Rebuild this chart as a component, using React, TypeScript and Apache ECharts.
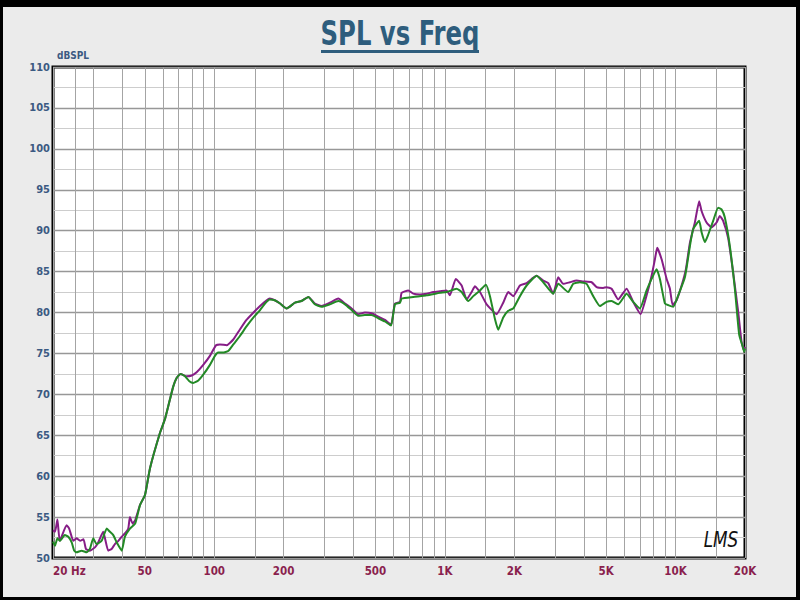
import React, { useEffect, useRef } from "react";
import * as echarts from "echarts";

// Grid line frequencies (Hz) and labelled frequencies
const gridFreqs = [20, 25, 30, 40, 50, 60, 70, 80, 90, 100, 150, 200, 300, 400, 500, 600, 700, 800, 900, 1000, 1500, 2000, 3000, 4000, 5000, 6000, 7000, 8000, 9000, 10000, 15000, 20000];
const labelFreqs = [20, 50, 100, 200, 500, 1000, 2000, 5000, 10000, 20000];

// Purple trace
const purpleFreq = [20, 20.4, 20.9, 21.4, 22.9, 23.5, 24.5, 25.3, 26.2, 27.1, 27.8, 28.9, 30.4, 31.4, 33.0, 34.7, 35.9, 37.1, 38.4, 39.7, 41.0, 42.4, 43.1, 44.3, 45.4, 47.7, 50.1, 52.7, 58.2, 61.2, 64.3, 66.5, 68.7, 71.5, 75.9, 79.9, 83.9, 89.6, 95.8, 101.8, 105.9, 113.2, 121, 129, 138, 148, 158, 168.8, 174, 183, 193, 206, 224, 239, 256, 273, 292, 317, 345, 369, 394, 421, 450, 481, 514, 550, 584, 607, 639, 649, 694, 729, 780, 834, 890, 952, 1017, 1051, 1115, 1182, 1243, 1306, 1350, 1419, 1517, 1676, 1790, 1882, 1979, 2115, 2261, 2377, 2499, 2669, 2805, 2948, 3100, 3258, 3483, 3725, 3979, 4327, 4547, 4856, 5024, 5281, 5641, 6134, 6552, 7055, 7491, 7873, 8138, 8326, 8700, 9147, 9452, 9710, 10104, 10622, 11087, 11537, 12126, 12658, 12965, 13626, 14324, 15056, 15560, 16081, 16905, 17767, 18683, 19325, 19776, 20000];
const purpleDb = [53.4, 53.2, 54.7, 52.1, 54.0, 53.6, 52.1, 52.4, 52.1, 52.3, 51.1, 50.9, 51.3, 51.9, 53.2, 50.9, 51.1, 51.7, 52.1, 52.6, 53.0, 53.6, 55.0, 54.2, 54.6, 56.5, 57.7, 61.0, 65.3, 67.0, 69.4, 71.0, 72.0, 72.5, 72.2, 72.3, 72.7, 73.6, 74.7, 76.0, 76.1, 76.0, 76.7, 77.9, 79.1, 80.0, 80.8, 81.5, 81.7, 81.5, 81.1, 80.5, 81.2, 81.4, 81.9, 81.1, 80.8, 81.2, 81.7, 81.1, 80.5, 79.8, 80.0, 79.9, 79.5, 79.1, 78.5, 81.1, 81.3, 82.4, 82.7, 82.3, 82.2, 82.3, 82.5, 82.6, 82.7, 82.1, 84.1, 83.3, 81.6, 82.5, 83.2, 82.5, 81.0, 79.8, 81.2, 82.5, 82.0, 83.3, 83.6, 84.1, 84.5, 83.9, 83.6, 82.3, 84.3, 83.5, 83.7, 83.9, 83.8, 83.7, 83.1, 83.0, 83.1, 82.9, 81.6, 82.9, 81.3, 79.8, 82.1, 84.5, 86.5, 87.9, 86.5, 84.1, 82.9, 80.9, 81.5, 83.3, 85.3, 88.5, 91.0, 93.6, 92.4, 91.0, 90.4, 91.0, 91.8, 91.2, 89.1, 84.9, 80.1, 76.4, 75.4, 75.8];

// Green trace
const greenFreq = [20, 20.4, 20.9, 21.4, 22.5, 23.3, 24.1, 24.7, 25.3, 26.6, 28.0, 28.9, 29.9, 30.9, 32.5, 34.2, 35.3, 36.5, 37.8, 39.7, 41.0, 43.1, 45.4, 47.7, 50.1, 52.7, 58.2, 61.2, 64.3, 66.5, 68.7, 71.5, 74.7, 78, 81.1, 85.3, 89.6, 95.8, 100.7, 104, 109, 115, 121, 129, 138, 148, 158, 166, 174, 183, 193, 206, 224, 239, 256, 273, 292, 317, 345, 369, 394, 421, 450, 481, 514, 550, 584, 607, 639, 649, 729, 834, 952, 1017, 1124, 1182, 1263, 1327, 1419, 1506, 1568, 1648, 1703, 1790, 1882, 1979, 2115, 2261, 2499, 2669, 2948, 3100, 3425, 3600, 3850, 4116, 4395, 4699, 5024, 5281, 5641, 6134, 6552, 7004, 7491, 7873, 8276, 8553, 8992, 9293, 9768, 10268, 10977, 11537, 11924, 12658, 12965, 13399, 13847, 14553, 15297, 15824, 16357, 17192, 18072, 18869, 19522, 19835, 20000];
const greenDb = [52.0, 51.5, 52.4, 52.1, 52.8, 52.6, 51.9, 50.9, 50.7, 50.9, 50.7, 51.1, 52.4, 51.7, 52.1, 53.6, 53.2, 52.8, 51.9, 50.9, 52.6, 53.6, 54.2, 56.5, 57.7, 61.0, 65.3, 67.0, 69.4, 71.0, 72.0, 72.5, 72.2, 71.6, 71.4, 71.7, 72.4, 73.6, 74.7, 75.1, 75.1, 75.3, 76.1, 77.1, 78.3, 79.4, 80.3, 81.1, 81.6, 81.5, 81.1, 80.5, 81.2, 81.4, 81.9, 81.0, 80.7, 81.0, 81.4, 81.0, 80.3, 79.6, 79.7, 79.7, 79.3, 78.9, 78.4, 81.0, 81.2, 81.7, 81.9, 82.1, 82.4, 82.5, 82.9, 82.5, 81.4, 82.0, 82.7, 83.4, 82.0, 79.2, 77.9, 79.4, 80.2, 80.5, 82.0, 83.3, 84.5, 83.7, 82.3, 83.5, 82.5, 83.5, 83.7, 83.5, 82.0, 80.8, 81.3, 81.4, 81.0, 82.3, 81.3, 80.5, 82.7, 84.1, 85.3, 84.1, 81.1, 80.9, 80.7, 82.1, 84.3, 88.1, 90.2, 91.2, 89.8, 88.6, 89.5, 91.2, 92.8, 92.6, 91.6, 88.1, 82.9, 77.3, 75.9, 75.2, 75.6];

const NARROW = "'Liberation Sans Narrow', 'DejaVu Sans Condensed', 'Liberation Sans', sans-serif";

function zip(xs: number[], ys: number[]) {
  return xs.map((x, i) => [x, ys[i]]);
}

function fmtFreq(v: number) {
  const r = Math.round(v);
  if (r === 20) return "20 Hz";
  if (r >= 1000) return r / 1000 + "K";
  return String(r);
}

export default function App() {
  const ref = useRef<HTMLDivElement>(null);
  useEffect(() => {
    document.body.style.margin = "0";
    if (!ref.current) return;
    const chart = echarts.init(ref.current, undefined, { renderer: "svg" });
    chart.setOption({
      animation: false,
      backgroundColor: "#ebebeb",
      grid: {
        left: 53,
        right: 55,
        top: 67,
        bottom: 42,
        show: true,
        backgroundColor: "#ffffff",
        borderColor: "#000000",
        borderWidth: 3,
      },
      xAxis: {
        type: "log",
        logBase: 10,
        min: 20,
        max: 20000,
        axisLine: { show: false },
        axisTick: { show: false, customValues: gridFreqs },
        axisLabel: {
          customValues: labelFreqs,
          formatter: fmtFreq,
          color: "#8a1f4e",
          fontFamily: NARROW,
          fontWeight: "bold",
          fontSize: 11.5,
          margin: 7,
          alignMinLabel: "left",
        },
        splitLine: { show: true, lineStyle: { color: "#a4a4a4", width: 1 } },
      },
      yAxis: {
        type: "value",
        min: 50,
        max: 110,
        interval: 5,
        axisLine: { show: false },
        axisTick: { show: false },
        axisLabel: {
          color: "#3b5a82",
          fontFamily: NARROW,
          fontWeight: "bold",
          fontSize: 11,
          margin: 3,
          padding: [0, 0, 3, 0],
        },
        splitLine: { show: true, lineStyle: { color: "#979797", width: 1.3 } },
        minorTick: { show: false, splitNumber: 2 },
        minorSplitLine: { show: true, lineStyle: { color: "#cdcdcd", width: 1 } },
      },
      series: [
        {
          type: "line",
          data: zip(purpleFreq, purpleDb),
          showSymbol: false,
          smooth: 0.15,
          lineStyle: { color: "#861d86", width: 2 },
          z: 3,
        },
        {
          type: "line",
          data: zip(greenFreq, greenDb),
          showSymbol: false,
          smooth: 0.15,
          lineStyle: { color: "#238a26", width: 2 },
          z: 4,
        },
      ],
      graphic: [
        { type: "rect", shape: { x: 0, y: 0, width: 800, height: 7 }, style: { fill: "#000" } },
        { type: "rect", shape: { x: 0, y: 0, width: 3, height: 600 }, style: { fill: "#000" } },
        { type: "rect", shape: { x: 796, y: 0, width: 4, height: 600 }, style: { fill: "#000" } },
        { type: "rect", shape: { x: 0, y: 597, width: 800, height: 3 }, style: { fill: "#000" } },
        {
          type: "text",
          x: 400,
          y: 34,
          scaleX: 0.82,
          style: {
            text: "SPL vs Freq",
            fontSize: 33,
            fontWeight: "bold",
            fontFamily: NARROW,
            fill: "#2e5d7d",
            align: "center",
            verticalAlign: "middle",
          },
        },
        { type: "rect", shape: { x: 321, y: 50, width: 158, height: 3 }, style: { fill: "#2e5d7d" } },
        {
          type: "text",
          x: 57,
          y: 55,
          style: {
            text: "dBSPL",
            fontSize: 10,
            fontWeight: "bold",
            fontFamily: NARROW,
            fill: "#3b5a82",
            align: "left",
            verticalAlign: "middle",
          },
        },
        {
          type: "text",
          x: 721,
          y: 539,
          z: 10,
          scaleX: 0.85,
          style: {
            text: "LMS",
            fontSize: 22,
            fontStyle: "italic",
            fontFamily: NARROW,
            fill: "#111",
            align: "center",
            verticalAlign: "middle",
          },
        },
      ],
    });
    return () => chart.dispose();
  }, []);
  return <div ref={ref} style={{ width: 800, height: 600 }} />;
}
